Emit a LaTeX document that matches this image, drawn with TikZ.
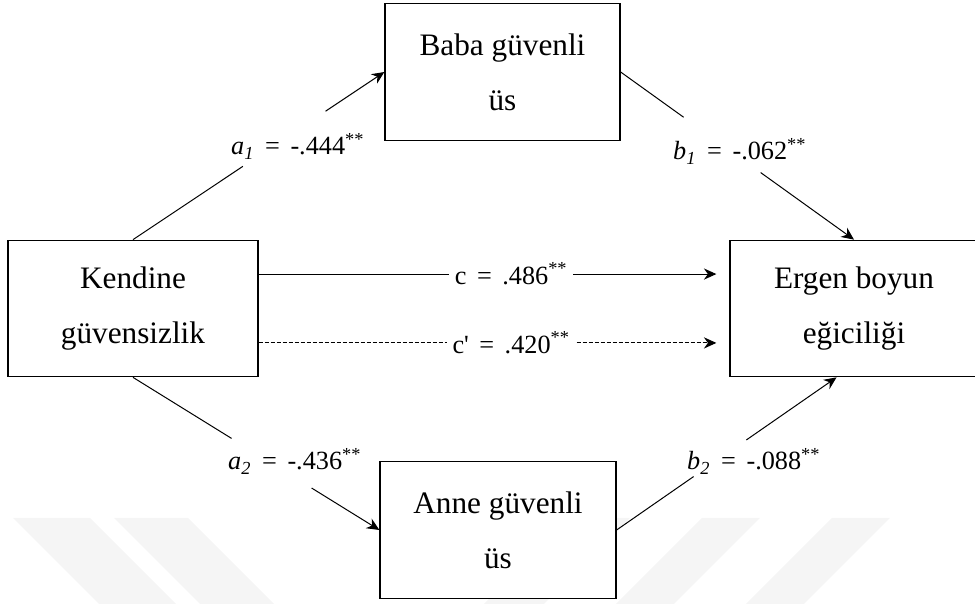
\documentclass[tikz,border=0pt]{standalone}
\usepackage{fontspec}
\setmainfont{Liberation Serif}[Ligatures=TeXOff]
\usetikzlibrary{arrows.meta,calc}

\newcommand{\gap}{\hspace{0.4em}}

\begin{document}
\begin{tikzpicture}[x=0.4pt, y=-0.4pt,
    var/.style={draw, fill=white, line width=0.5pt, align=center, inner sep=0pt,
      minimum height=54.6pt, font=\fontsize{12.5}{22}\selectfont},
    coef/.style={font=\fontsize{10.5}{12}\selectfont, inner sep=0pt},
    conn/.style={line width=0.4pt},
    arr/.style={-{Stealth[length=5pt, width=4.5pt]}},
    wm/.style={fill=black!4}]
  \useasboundingbox (0,0) rectangle (975,604);

  % faint watermark bands
  \fill[wm] (13,518) -- (90,518) -- (176,604) -- (99,604) -- cycle;
  \fill[wm] (114,518) -- (188,518) -- (274,604) -- (200,604) -- cycle;
  \fill[wm] (570,518) -- (630,518) -- (544,604) -- (484,604) -- cycle;
  \fill[wm] (702,518) -- (760,518) -- (674,604) -- (616,604) -- cycle;
  \fill[wm] (832,518) -- (890,518) -- (804,604) -- (746,604) -- cycle;

  \node[var, minimum width=100pt] (kend) at (133,308.5) {Kendine\\güvensizlik};
  \node[var, minimum width=94pt] (baba) at (502.5,72) {Baba güvenli\\üs};
  \node[var, minimum width=94.4pt] (anne) at (498,530) {Anne güvenli\\üs};
  \node[var, minimum width=99.2pt] (ergen) at (854,308.5) {Ergen boyun\\eğiciliği};

  \node[coef, anchor=base] (la1) at (298,155) {\textit{a\textsubscript{1}}\gap=\gap-.444\textsuperscript{**}};
  \node[coef, anchor=base] (lb1) at (740,160) {\textit{b\textsubscript{1}}\gap=\gap-.062\textsuperscript{**}};
  \node[coef, anchor=base] (la2) at (295,470) {\textit{a\textsubscript{2}}\gap=\gap-.436\textsuperscript{**}};
  \node[coef, anchor=base] (lb2) at (754,470) {\textit{b\textsubscript{2}}\gap=\gap-.088\textsuperscript{**}};

  \coordinate (cs) at ($(kend.north east)!.25!(kend.south east)$);
  \coordinate (ce) at ($(ergen.north west)!.25!(ergen.south west)$);
  \coordinate (ds) at ($(kend.north east)!.75!(kend.south east)$);
  \coordinate (de) at ($(ergen.north west)!.75!(ergen.south west)$);
  \coordinate (b2end) at ($(ergen.south west)!.43!(ergen.south east)$);

  % a1 and b1
  \draw[conn] (kend.north) -- ($(kend.north)!.437!(baba.west)$);
  \draw[conn, arr] ($(kend.north)!.766!(baba.west)$) -- (baba.west);
  \draw[conn] (baba.east) -- ($(baba.east)!.27!(ergen.north)$);
  \draw[conn, arr] ($(baba.east)!.60!(ergen.north)$) -- (ergen.north);

  % c and c'
  \draw[conn, arr, shorten >=5.2pt] (cs) -- node[coef, fill=white, pos=.537, inner xsep=2.2pt, inner ysep=1pt] (lc) {c\gap=\gap.486\textsuperscript{**}} (ce);
  \draw[conn, arr, dash pattern=on 1.6pt off 0.8pt, shorten >=5.2pt] (ds) -- node[coef, fill=white, pos=.537, inner xsep=2.2pt, inner ysep=1pt] (ld) {c'\gap=\gap.420\textsuperscript{**}} (de);

  % a2 and b2
  \draw[conn] (kend.south) -- ($(kend.south)!.40!(anne.west)$);
  \draw[conn, arr] ($(kend.south)!.725!(anne.west)$) -- (anne.west);
  \draw[conn] (anne.east) -- ($(anne.east)!.35!(b2end)$);
  \draw[conn, arr] ($(anne.east)!.59!(b2end)$) -- (b2end);
\end{tikzpicture}
\end{document}
